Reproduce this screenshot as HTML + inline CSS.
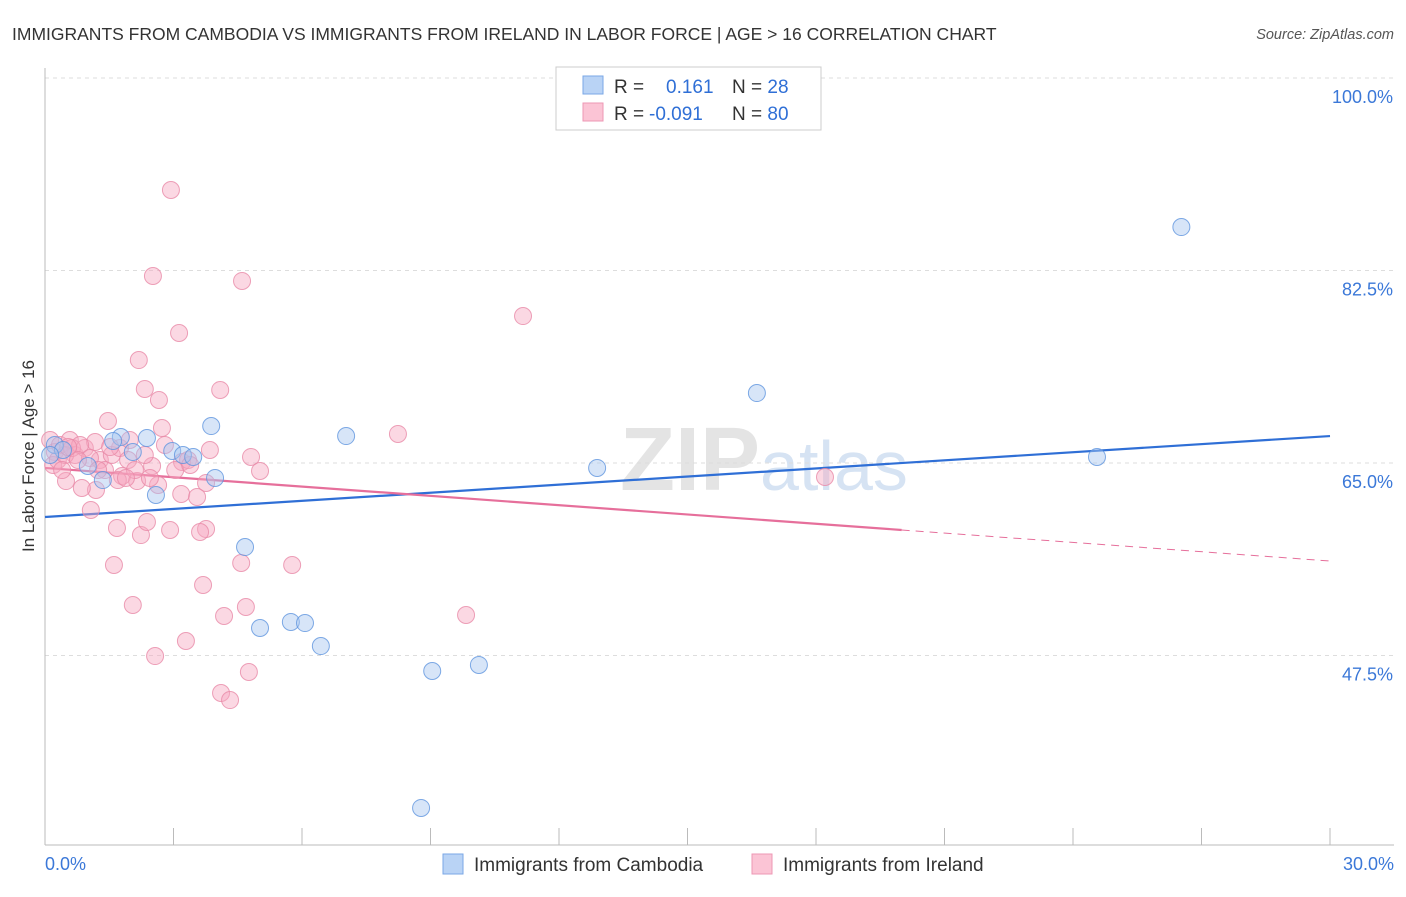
<!DOCTYPE html>
<html><head><meta charset="utf-8"><style>
body{margin:0;background:#fff;font-family:"Liberation Sans",sans-serif;}
svg text{font-family:"Liberation Sans",sans-serif;}
</style></head><body>
<svg id="chart" width="1406" height="892">
<text x="12" y="40" font-size="17.5" fill="#333">IMMIGRANTS FROM CAMBODIA VS IMMIGRANTS FROM IRELAND IN LABOR FORCE | AGE &gt; 16 CORRELATION CHART</text>
<text x="1394" y="39" font-size="14.5" fill="#555" font-style="italic" text-anchor="end">Source: ZipAtlas.com</text>
<text x="620" y="490" font-size="90" fill="#e4e4e4" font-family="Liberation Serif" font-weight="bold">ZIP<tspan fill="#d6e3f3" font-family="Liberation Sans" font-weight="normal" font-size="70">atlas</tspan></text>
<g id="grid"></g><g id="axes"></g><g id="lines"></g><g id="pts"></g>
<text x="0" y="0" transform="translate(34,456) rotate(-90)" font-size="17" fill="#333" text-anchor="middle">In Labor Force | Age &gt; 16</text>
<g>
<rect x="556" y="67" width="265" height="63" fill="#fff" stroke="#ccc"/>
<rect x="583" y="76" width="20" height="18" fill="#b9d3f5" stroke="#7aa7e6"/>
<rect x="583" y="103" width="20" height="18" fill="#fbc4d5" stroke="#ee97b4"/>
<text x="614" y="93" font-size="19" fill="#333">R = <tspan fill="#2f6fd6" x="666">0.161</tspan><tspan x="732" fill="#333">N = </tspan><tspan fill="#2f6fd6">28</tspan></text>
<text x="614" y="120" font-size="19" fill="#333">R = <tspan fill="#2f6fd6" x="649">-0.091</tspan><tspan x="732" fill="#333">N = </tspan><tspan fill="#2f6fd6">80</tspan></text>
</g>
<g>
<rect x="443" y="854" width="20" height="20" fill="#b9d3f5" stroke="#7aa7e6"/>
<text x="474" y="871" font-size="19" fill="#333">Immigrants from Cambodia</text>
<rect x="752" y="854" width="20" height="20" fill="#fbc4d5" stroke="#ee97b4"/>
<text x="783" y="871" font-size="19" fill="#333">Immigrants from Ireland</text>
</g>
</svg>
<script>
const yTicks=[100,82.5,65,47.5];
const yTickLabels=["100.0%","82.5%","65.0%","47.5%"];
const xEndLabels=["0.0%","30.0%"];
const cambodiaX=[26.53,16.62,24.56,12.89,7.03,3.88,1.77,2.38,1.59,1.0,2.05,2.97,3.22,3.46,3.97,1.35,2.59,4.67,5.02,5.74,6.07,6.44,9.04,10.13,8.78,0.23,0.42,0.12];
const cambodiaY=[86.45,71.36,65.55,64.55,67.45,68.36,67.36,67.27,67.0,64.73,66.0,66.09,65.73,65.55,63.64,63.45,62.09,57.36,50.0,50.55,50.45,48.36,46.09,46.64,33.64,66.64,66.18,65.73];
const irelandX=[2.94,2.52,4.6,11.16,3.13,2.19,2.33,4.09,2.66,1.47,2.73,8.24,3.85,4.81,3.2,3.34,5.02,2.5,1.8,2.15,3.76,1.19,0.86,0.49,2.64,3.18,3.55,1.07,1.68,3.76,2.92,2.24,3.62,2.38,1.61,4.58,5.77,3.69,2.05,4.69,4.18,9.83,3.29,2.57,4.76,4.11,4.32,18.21,0.12,0.23,0.35,0.58,0.7,0.93,1.17,1.28,1.4,1.56,1.75,1.94,2.1,2.33,2.45,2.8,3.04,3.39,0.19,0.3,0.47,0.63,0.82,1.05,1.24,1.7,1.89,0.77,0.4,0.54,1.52,1.98];
const irelandY=[89.82,82.0,81.55,78.36,76.82,74.36,71.73,71.64,70.73,68.82,68.18,67.64,66.18,65.55,65.09,65.27,64.27,64.73,63.82,63.36,63.18,62.55,62.73,63.36,63.0,62.18,61.91,60.73,59.09,59.0,58.91,58.45,58.73,59.64,55.73,55.91,55.73,53.91,52.09,51.91,51.09,51.18,48.82,47.45,46.0,44.09,43.45,63.73,67.09,66.0,66.64,67.09,65.73,66.36,66.91,65.27,64.36,65.73,66.36,65.27,64.36,65.73,63.64,66.64,64.36,64.82,64.82,65.27,65.73,66.36,66.64,65.45,64.36,63.45,63.64,65.27,64.36,66.45,66.45,67.09];
const cambodiaTrend=[60.09,67.45];
const irelandTrend=[64.55,56.09];
const irelandSolidEnd=20;
const NS="http://www.w3.org/2000/svg";
const xS=v=>45+v/30*1285;
const yS=v=>78+(100-v)*11;
function mk(tag,attrs,parent){const e=document.createElementNS(NS,tag);for(const k in attrs)e.setAttribute(k,attrs[k]);document.getElementById(parent).appendChild(e);return e;}
yTicks.forEach((t,i)=>{
 const l=mk('line',{x1:45,x2:1394,y1:yS(t),y2:yS(t),stroke:'#ddd','stroke-dasharray':'4,4'},'grid');
 
 
 const tx=mk('text',{x:1393,y:yS(t)+25,'font-size':18,fill:'#3b78d8','text-anchor':'end'},'grid');
 tx.textContent=yTickLabels[i];
 
 
});
const ax=mk('line',{x1:45,x2:1394,y1:845,y2:845,stroke:'#bbb'},'axes');


const ay=mk('line',{x1:45,x2:45,y1:68,y2:845,stroke:'#bbb'},'axes');


for(let i=0;i<=10;i++){
 const t=mk('line',{x1:xS(i*3),x2:xS(i*3),y1:828,y2:845,stroke:'#bbb'},'axes');
 
 
}
[[0,'start',45],[30,'end',1394]].forEach((d,i)=>{
 const t=mk('text',{x:d[2],y:870,'font-size':18,fill:'#3b78d8','text-anchor':d[1]},'axes');
 t.textContent=xEndLabels[i];
 
 
});
function pts(xs,ys,fill,stroke,name){xs.forEach((x,i)=>{
 const c=mk('circle',{cx:xS(x),cy:yS(ys[i]),r:8.5,fill:fill,'fill-opacity':0.45,stroke:stroke,'stroke-opacity':0.8,'stroke-width':1},'pts');
 
 
});}
pts(irelandX,irelandY,'#f7a8c2','#e98aa8','ireland-point');
pts(cambodiaX,cambodiaY,'#a6c6f0','#5f95de','cambodia-point');
const bl=mk('line',{x1:xS(0),y1:yS(cambodiaTrend[0]),x2:xS(30),y2:yS(cambodiaTrend[1]),stroke:'#2f6fd6','stroke-width':2.2},'lines');


const ym=irelandTrend[0]+(irelandTrend[1]-irelandTrend[0])*irelandSolidEnd/30;
const pl=mk('line',{x1:xS(0),y1:yS(irelandTrend[0]),x2:xS(irelandSolidEnd),y2:yS(ym),stroke:'#e66f9b','stroke-width':2.2},'lines');


const pd=mk('line',{x1:xS(irelandSolidEnd),y1:yS(ym),x2:xS(30),y2:yS(irelandTrend[1]),stroke:'#e66f9b','stroke-width':1,'stroke-dasharray':'8,6'},'lines');


</script>
</body></html>
